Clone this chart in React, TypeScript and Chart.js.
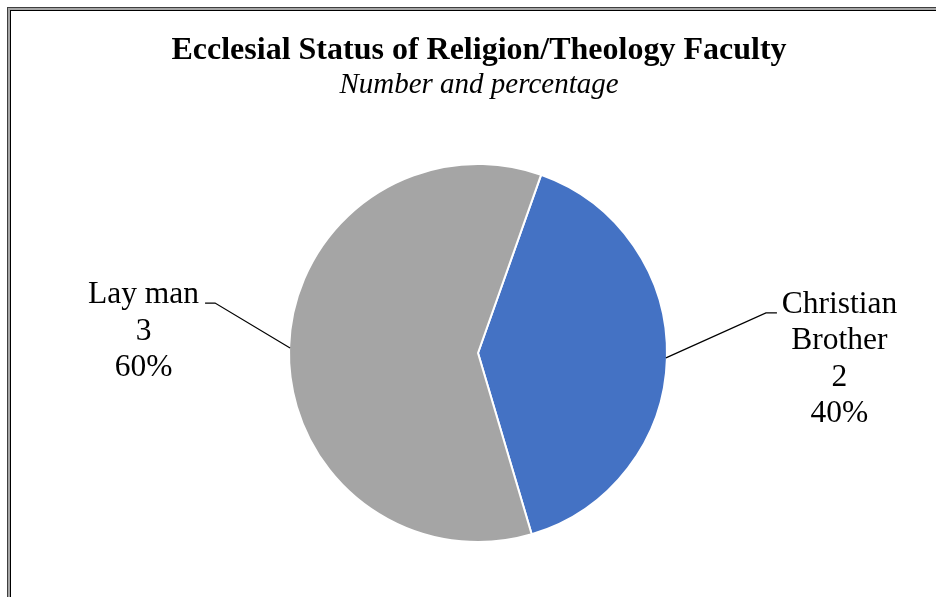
import React, { useEffect, useRef } from "react";
import { Chart, registerables } from "chart.js";

Chart.register(...registerables);

const categories = ["Christian Brother", "Lay man"];
const categoryLines = [["Christian", "Brother"], ["Lay man"]];
const counts = [2, 3];
const sliceColors = ["#4472C4", "#A5A5A5"];
const titleText = "Ecclesial Status of Religion/Theology Faculty";
const subtitleText = "Number and percentage";

const FONT = '"Liberation Serif", "Times New Roman", serif';

// label placement relative to each slice's mid-edge point
const labelLayout = [
  { elbowDx: 100, elbowDy: -45, tailDx: 111, textDx: 173.5 },
  { elbowDx: -75, elbowDy: -45, tailDx: -85, textDx: -146.5 },
];

const decorPlugin = {
  id: "decor",
  beforeDraw(chart: any) {
    const ctx = chart.ctx as CanvasRenderingContext2D;
    const W = chart.width;
    const H = chart.height;
    ctx.save();
    ctx.fillStyle = "#ffffff";
    ctx.fillRect(0, 0, W, H);
    ctx.fillStyle = "#3f3f3f";
    ctx.fillRect(7, 7, W, H);
    ctx.fillStyle = "#a6a6a6";
    ctx.fillRect(8, 8, W, H);
    ctx.fillStyle = "#000000";
    ctx.fillRect(10, 10, W, H);
    ctx.fillStyle = "#ffffff";
    ctx.fillRect(11, 11, W, H);

    ctx.fillStyle = "#000000";
    ctx.textAlign = "center";
    ctx.textBaseline = "alphabetic";
    ctx.font = `bold 32px ${FONT}`;
    ctx.fillText(titleText, 479, 59);
    ctx.font = `italic 29px ${FONT}`;
    ctx.fillText(subtitleText, 479, 93);
    ctx.restore();
  },
  afterDraw(chart: any) {
    const ctx = chart.ctx as CanvasRenderingContext2D;
    const meta = chart.getDatasetMeta(0);
    const total = counts.reduce((a, b) => a + b, 0);
    ctx.save();
    meta.data.forEach((arc: any, i: number) => {
      const p = arc.getProps(["x", "y", "startAngle", "endAngle", "outerRadius"], true);
      const mid = (p.startAngle + p.endAngle) / 2;
      const ex = p.x + Math.cos(mid) * (p.outerRadius - 1);
      const ey = p.y + Math.sin(mid) * (p.outerRadius - 1);
      const L = labelLayout[i];
      ctx.strokeStyle = "#000000";
      ctx.lineWidth = 1.2;
      ctx.beginPath();
      ctx.moveTo(ex, ey);
      ctx.lineTo(ex + L.elbowDx, ey + L.elbowDy);
      ctx.lineTo(ex + L.tailDx, ey + L.elbowDy);
      ctx.stroke();

      const lines = [
        ...categoryLines[i],
        String(counts[i]),
        Math.round((counts[i] / total) * 100) + "%",
      ];
      ctx.fillStyle = "#000000";
      ctx.font = `31.5px ${FONT}`;
      ctx.textAlign = "center";
      ctx.textBaseline = "alphabetic";
      const tx = ex + L.textDx;
      const ty = ey + L.elbowDy;
      lines.forEach((t, k) => ctx.fillText(t, tx, ty + k * 36.5));
    });
    ctx.restore();
  },
};

export default function App() {
  const ref = useRef<HTMLCanvasElement | null>(null);
  useEffect(() => {
    if (!ref.current) return;
    const chart = new Chart(ref.current, {
      type: "pie",
      data: {
        labels: categories,
        datasets: [
          {
            data: counts,
            backgroundColor: sliceColors,
            borderColor: "#ffffff",
            borderWidth: 2,
          },
        ],
      },
      options: {
        responsive: false,
        animation: false,
        rotation: 19.5,
        layout: { padding: { left: 288, right: 268, top: 163, bottom: 54 } },
        plugins: {
          legend: { display: false },
          tooltip: { enabled: false },
          title: { display: false },
        },
      },
      plugins: [decorPlugin],
    });
    return () => chart.destroy();
  }, []);
  return (
    <div style={{ position: "fixed", left: 0, top: 0, width: 936, height: 597 }}>
      <canvas ref={ref} width={936} height={597} style={{ display: "block" }} />
    </div>
  );
}
